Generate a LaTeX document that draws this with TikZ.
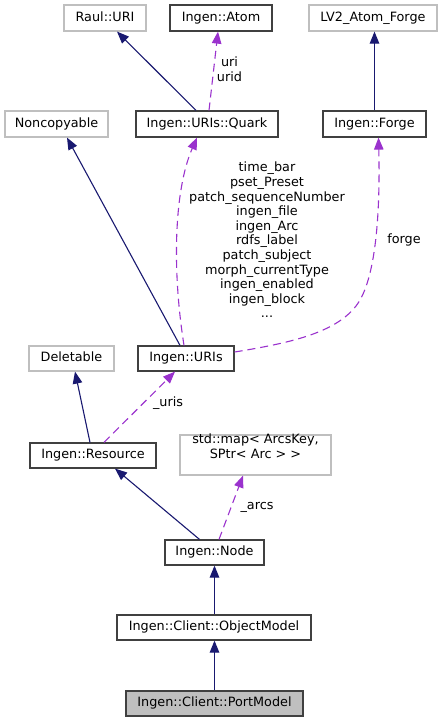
\documentclass[tikz,border=0pt]{standalone}
\usepackage{fontspec}
\setmainfont{DejaVu Sans}
\usetikzlibrary{arrows.meta}
\definecolor{navy}{HTML}{191970}
\definecolor{orchid}{HTML}{9A32CD}
\definecolor{boxdark}{HTML}{404040}
\definecolor{boxlight}{HTML}{BFBFBF}
\begin{document}
\begin{tikzpicture}[x=1pt,y=-1pt,
  every node/.style={font=\fontsize{12.8}{14.6}\selectfont, inner sep=0pt},
  cls/.style={draw=boxdark, line width=1.2pt, fill=white, minimum height=25pt, text height=9.5pt, text depth=2.7pt},
  ext/.style={draw=boxlight, line width=1.2pt, fill=white, minimum height=26pt, text height=9.5pt, text depth=2.7pt},
  cur/.style={draw=boxdark, line width=1.2pt, fill=boxlight, minimum height=25pt, text height=9.5pt, text depth=2.7pt},
  inh/.style={draw=navy, line width=1.1pt, -{Triangle[length=12pt,width=9.5pt]}},
  use/.style={draw=orchid, line width=1.1pt, dash pattern=on 8pt off 5pt, -{Triangle[length=12pt,width=9.5pt]}},
  lbl/.style={align=center}
]
\useasboundingbox (0,0) rectangle (445,723);
% nodes
\node[ext, minimum width=82pt] (raul) at (105,18) {Raul::URI};
\node[cls, minimum width=102pt, minimum height=26pt] (atom) at (221,18) {Ingen::Atom};
\node[ext, minimum width=128pt] (lv2) at (373,18) {LV2\_Atom\_Forge};
\node[ext, minimum width=103pt] (noncop) at (56.5,124) {Noncopyable};
\node[cls, minimum width=142pt, minimum height=26pt] (quark) at (207,124) {Ingen::URIs::Quark};
\node[cls, minimum width=103pt, minimum height=26pt] (forge) at (374.5,124) {Ingen::Forge};
\node[cls, minimum width=96pt] (uris) at (186,358.5) {Ingen::URIs};
\node[ext, minimum width=85pt, minimum height=25pt] (deletable) at (71.5,358.5) {Deletable};
\node[cls, minimum width=126pt] (resource) at (93,455.5) {Ingen::Resource};
\node[ext, minimum width=151pt, minimum height=40pt, align=center] (stdmap) at (255.5,455) {std::map\textless{} ArcsKey,\\ SPtr\textless{} Arc \textgreater{} \textgreater{}};
\node[cls, minimum width=99pt] (node) at (214.5,552.5) {Ingen::Node};
\node[cls, minimum width=194pt] (objmodel) at (214,627.5) {Ingen::Client::ObjectModel};
\node[cur, minimum width=177pt] (portmodel) at (214.5,703.5) {Ingen::Client::PortModel};
% edges
\draw[inh] ([xshift=-11pt]quark.north) -- ([xshift=12pt]raul.south);
\draw[use] ([xshift=2pt]quark.north) -- ([xshift=-3pt]atom.south);
\node[lbl] (lbluri) at (229.5,69) {uri\\urid};
\draw[inh] (forge.north) -- (forge.north |- lv2.south);
\draw[inh] ([xshift=-6pt]uris.north) -- ([xshift=10.5pt]noncop.south);
\draw[use] ([xshift=-2pt]uris.north) .. controls (172,270) and (174,190) .. ([xshift=-10pt]quark.south);
\draw[use] ([yshift=6.5pt]uris.east) .. controls (290,343) and (335,333) .. (356,306) .. controls (378,278) and (380,200) .. ([xshift=4pt]forge.south);
\node[lbl] (lblquark) at (267,240) {time\_bar\\pset\_Preset\\patch\_sequenceNumber\\ingen\_file\\ingen\_Arc\\rdfs\_label\\patch\_subject\\morph\_currentType\\ingen\_enabled\\ingen\_block\\...};
\node[lbl] (lblforge) at (404,240) {forge};
\draw[inh] ([xshift=-3pt]resource.north) -- ([xshift=3.5pt]deletable.south);
\draw[use] ([xshift=11pt]resource.north) -- ([xshift=-11pt]uris.south);
\node[lbl] (lbluris) at (168,403) {\_uris};
\draw[inh] ([xshift=-15pt]node.north) -- ([xshift=22pt]resource.south);
\draw[use] ([xshift=4.5pt]node.north) -- ([xshift=-12.5pt]stdmap.south);
\node[lbl] (lblarcs) at (257,507) {\_arcs};
\draw[inh] ([xshift=0.5pt]objmodel.north) -- ([xshift=0.5pt]objmodel.north |- node.south);
\draw[inh] (portmodel.north) -- (portmodel.north |- objmodel.south);
\end{tikzpicture}
\end{document}
